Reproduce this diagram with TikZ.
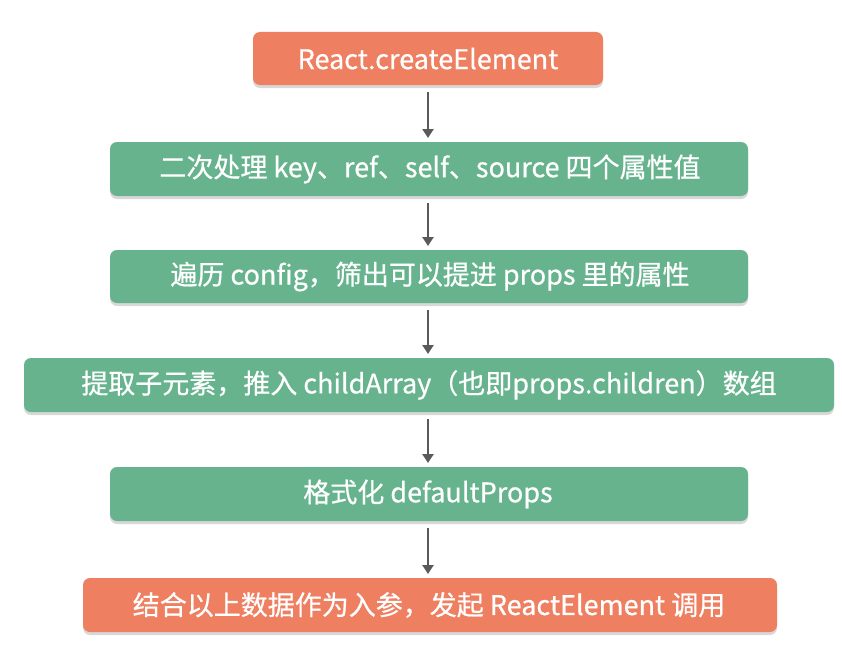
\documentclass[tikz,border=0pt]{standalone}
\usepackage{fontspec}
\setmainfont{Noto Sans CJK SC}[FakeBold=0.6]
\usetikzlibrary{shadows,arrows.meta}
\definecolor{boxorange}{HTML}{EE7F60}
\definecolor{boxgreen}{HTML}{66B38E}
\definecolor{arrgray}{HTML}{5A5A5A}
\tikzset{
  stepbox/.style={rounded corners=7pt, draw=none,
    drop shadow={shadow xshift=0pt, shadow yshift=-3pt, opacity=0.25, fill=black!60}},
  orangebox/.style={stepbox, fill=boxorange},
  greenbox/.style={stepbox, fill=boxgreen},
  label/.style={text=white, font=\fontsize{27}{31}\selectfont, inner sep=0pt},
  flow/.style={draw=arrgray, line width=2.6pt, -{Triangle[length=9pt,width=11pt]}, shorten <=7pt, shorten >=4pt}
}
\begin{document}
\begin{tikzpicture}[x=1pt,y=-1pt]
\useasboundingbox[fill=white] (0,0) rectangle (842,661);
\path[orangebox] (253,32) rectangle (603,85);
\node[label] (n1) at (428,58.5) {React.createElement};
\coordinate (b1) at (428,85);
\path[greenbox] (110,142) rectangle (748,196);
\node[label] (n2) at (430,169) {二次处理 key、ref、self、source 四个属性值};
\coordinate (t2) at (428,142);
\coordinate (b2) at (428,196);
\path[greenbox] (110,250) rectangle (748,303);
\node[label] (n3) at (430,276.5) {遍历 config，筛出可以提进 props 里的属性};
\coordinate (t3) at (428,250);
\coordinate (b3) at (428,303);
\path[greenbox] (24,358) rectangle (834,412);
\node[label] (n4) at (429,385) {提取子元素，推入 childArray（也即props.children）数组};
\coordinate (t4) at (428,358);
\coordinate (b4) at (428,412);
\path[greenbox] (110,467) rectangle (748,521);
\node[label] (n5) at (428,494) {格式化 defaultProps};
\coordinate (t5) at (428,467);
\coordinate (b5) at (428,521);
\path[orangebox] (83,578) rectangle (777,632);
\node[label] (n6) at (429,605) {结合以上数据作为入参，发起 ReactElement 调用};
\coordinate (t6) at (428,578);
\draw[flow] (b1) -- (t2);
\draw[flow] (b2) -- (t3);
\draw[flow] (b3) -- (t4);
\draw[flow] (b4) -- (t5);
\draw[flow] (b5) -- (t6);
\end{tikzpicture}
\end{document}
